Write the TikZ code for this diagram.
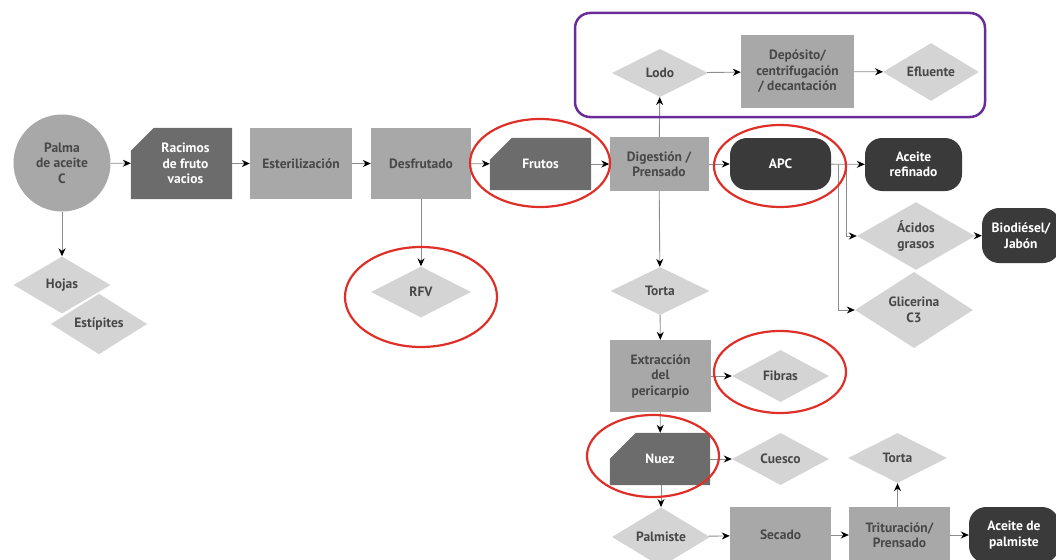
\documentclass[tikz,border=0pt]{standalone}
\usepackage{fontspec}
\setmainfont{PT Sans}
\usepackage{tikz}
\usetikzlibrary{arrows.meta,shapes,positioning,backgrounds}
\usepackage{xcolor}
\definecolor{pllight}{RGB}{212,212,212}
\definecolor{plmid}{RGB}{168,168,168}
\definecolor{pldark}{RGB}{108,108,108}
\definecolor{plblack}{RGB}{58,58,58}
\definecolor{pltext}{RGB}{72,72,72}
\definecolor{plline}{RGB}{140,140,140}
\definecolor{plred}{RGB}{222,48,40}
\definecolor{plpurple}{RGB}{106,44,154}
\tikzstyle{arrow} = [line width=0.9pt,color=plline,-{Stealth[black,length=8pt,width=7pt]}]
\tikzstyle{proc} = [rectangle, fill=plmid, text=pltext, align=center, inner sep=2pt]
\tikzstyle{prod} = [diamond, fill=pllight, text=pltext, align=center, inner sep=0pt]
\tikzstyle{raw} = [rectangle, text=white, align=center, inner sep=2pt]
\tikzstyle{oil} = [rectangle, rounded corners=17pt, fill=plblack, text=white, align=center, inner sep=2pt]
\tikzstyle{redring} = [plred, line width=2.2pt]
% cut-corner box behind a raw node: #1 node, #2 cut
\newcommand{\cutbox}[2]{\fill[pldark] (#1.south west) -- (#1.south east) -- (#1.north east)
  -- ([xshift=#2]#1.north west) -- ([yshift=-#2]#1.north west) -- cycle;}

\begin{document}
\begin{tikzpicture}[x=1pt,y=-1pt,font=\fontsize{13.5}{15.5}\selectfont\bfseries]
\useasboundingbox (0,0) rectangle (1056,559);
\clip (0,0) rectangle (1056,559);

% Main line
\node[circle, fill=plmid, text=pltext, align=center, minimum size=97pt, inner sep=0pt] (palma) at (62,163) {Palma\\de aceite\\C};
\node[raw, minimum width=101pt, minimum height=71pt] (racimos) at (181.5,163.5) {\hspace*{8pt}Racimos\\\hspace*{8pt}de fruto\\\hspace*{8pt}vacios};
\node[proc, minimum width=102pt, minimum height=71pt] (ester) at (301,163.5) {Esterilización};
\node[proc, minimum width=100pt, minimum height=71pt] (desfr) at (421,163.5) {Desfrutado};
\node[raw, minimum width=101pt, minimum height=52pt] (frutos) at (540.5,164) {Frutos};
\node[proc, minimum width=99pt, minimum height=54pt] (digest) at (659,164) {Digestión /\\Prensado};
\node[oil, minimum width=101pt, minimum height=52pt] (apc) at (780.5,164) {APC};
\node[oil, minimum width=97pt, minimum height=53pt] (aceite) at (913.5,164.5) {Aceite\\refinado};

% Sludge line
\node[prod, minimum width=96pt, minimum height=48pt] (lodo) at (660,73) {Lodo};
\node[proc, minimum width=113pt, minimum height=73pt] (deposito) at (797.5,71.5) {Depósito/\\centrifugación\\/ decantación};
\node[prod, minimum width=96pt, minimum height=57pt] (efluente) at (931,72) {Efluente};

% Oil products
\node[prod, minimum width=118pt, minimum height=65pt] (acidos) at (916,236) {Ácidos\\grasos};
\node[oil, minimum width=78pt, minimum height=55pt] (biodiesel) at (1021,235.5) {Biodiésel/\\Jabón};
\node[prod, minimum width=118pt, minimum height=56pt] (glicerina) at (914,310) {Glicerina\\C3};

% By-products
\node[prod, minimum width=97pt, minimum height=57pt] (hojas) at (62,285) {Hojas};
\node[prod, draw=white, line width=0.6pt, minimum width=98pt, minimum height=52pt] (estipites) at (99,324) {Estípites};
\node[prod, minimum width=100pt, minimum height=51pt] (rfv) at (421,292) {RFV};

% Kernel line
\node[prod, minimum width=99pt, minimum height=48pt] (torta) at (660,291) {Torta};
\node[proc, minimum width=101pt, minimum height=72pt] (extrac) at (660.5,376) {Extracción\\del\\pericarpio};
\node[prod, minimum width=97pt, minimum height=52pt] (fibras) at (780.5,376) {Fibras};
\node[raw, minimum width=100pt, minimum height=52pt] (nuez) at (660,459) {Nuez};
\node[prod, minimum width=97pt, minimum height=52pt] (cuesco) at (780.5,459) {Cuesco};
\node[prod, minimum width=98pt, minimum height=58pt] (palmiste) at (661,537) {Palmiste};
\node[proc, minimum width=101pt, minimum height=56pt] (secado) at (780.5,535) {Secado};
\node[proc, minimum width=101pt, minimum height=56pt] (trit) at (899.5,535) {Trituración/\\Prensado};
\node[prod, minimum width=99pt, minimum height=50pt] (torta2) at (897.5,458) {Torta};
\node[oil, minimum width=90pt, minimum height=56pt] (aceitepalm) at (1014,535) {Aceite de\\palmiste};

% Cut corners
\begin{scope}[on background layer]
\cutbox{racimos}{23pt}
\cutbox{frutos}{22pt}
\cutbox{nuez}{26pt}
\end{scope}

% Arrows
\draw[arrow] (palma) -- (racimos);
\draw[arrow] (racimos) -- (ester);
\draw[arrow] (ester) -- (desfr);
\draw[arrow] (desfr) -- (frutos);
\draw[arrow] (frutos) -- (digest);
\draw[arrow] (digest) -- (apc);
\draw[arrow] (apc) -- (aceite);
\draw[arrow] ([xshift=15pt]apc.east) |- (acidos.west);
\draw[arrow] ([xshift=7pt]apc.east) |- (glicerina.west);
\draw[arrow] (acidos) -- (biodiesel);
\draw[arrow] (digest) -- (lodo);
\draw[arrow] (lodo) -- (deposito);
\draw[arrow] (deposito) -- (efluente);
\draw[arrow] (palma) -- (hojas);
\draw[arrow] (desfr) -- (rfv);
\draw[arrow] (digest) -- (torta);
\draw[arrow] (torta) -- (extrac);
\draw[arrow] (extrac) -- (fibras);
\draw[arrow] (extrac) -- (nuez);
\draw[arrow] (nuez) -- (cuesco);
\draw[arrow] (nuez.south -| palmiste.north) -- (palmiste);
\draw[arrow] (palmiste) -- (secado);
\draw[arrow] (secado) -- (trit);
\draw[arrow] (trit) -- (aceitepalm);
\draw[arrow] (trit.north -| torta2.south) -- (torta2);

% Highlights
\draw[plpurple, line width=2.5pt, rounded corners=15pt] (575,13) rectangle (985,117);
\draw[redring] (540,163) ellipse (70 and 44);
\draw[redring] (780,166) ellipse (66 and 41);
\draw[redring] (421,297) ellipse (76 and 50);
\draw[redring] (780,372) ellipse (66 and 41);
\draw[redring] (653,456) ellipse (66 and 41);
\end{tikzpicture}
\end{document}
